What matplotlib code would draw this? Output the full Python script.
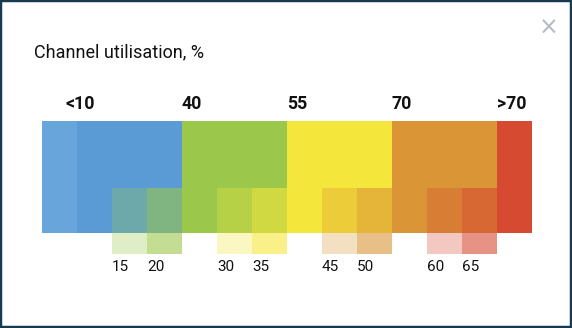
import matplotlib.pyplot as plt
from matplotlib.patches import Rectangle

# Main bands: start column, width in columns, colour
band_starts = [0, 1, 4, 7, 10, 13]
band_widths = [1, 3, 3, 3, 3, 1]
band_colors = ["#68a5da", "#5a9bd6", "#9bc84a", "#f5e63b", "#d99536", "#d64a32"]

# Threshold labels above the bar
top_labels = ["<10", "40", "55", "70", ">70"]
top_label_x = [0.68, 4, 7, 10, 13]

# Intermediate steps drawn as translucent boxes of the next band colour
step_values = [15, 20, 30, 35, 45, 50, 60, 65]
step_columns = [2, 3, 5, 6, 8, 9, 11, 12]
step_colors = ["#9bc84a", "#9bc84a", "#f5e63b", "#f5e63b",
               "#d99536", "#d99536", "#d64a32", "#d64a32"]
step_alphas = [0.3, 0.6, 0.3, 0.6, 0.3, 0.6, 0.3, 0.6]

W, H = 572, 328
fig = plt.figure(figsize=(W / 100, H / 100), dpi=100)
fig.patch.set_facecolor("white")
plt.rcParams["font.family"] = ["Roboto", "DejaVu Sans"]

# dialog frame
frame = Rectangle((0, 0), 1, 1, transform=fig.transFigure, fill=False,
                  edgecolor="#173a52", linewidth=3.2)
fig.add_artist(frame)

# close cross
fig.text(549 / W, 1 - 28 / H, "\u00d7", fontsize=17, color="#b3bac4",
         ha="center", va="center", family=["DejaVu Sans"])

fig.text(34 / W, 1 - 52 / H, "Channel utilisation, %", fontsize=13,
         color="#111111", ha="left", va="center")

# chart axes: main bar from y=0 to y=1
bar_h = 112.0
box_top = 45 / bar_h
box_bottom = -21 / bar_h
ax = fig.add_axes([42 / W, (H - 254) / H, 490 / W, 133 / H])
ax.set_xlim(0, 14)
ax.set_ylim(box_bottom, 1)
ax.axis("off")

ax.bar(band_starts, 1, width=band_widths, align="edge", color=band_colors,
       linewidth=0)

for col, val, c, a in zip(step_columns, step_values, step_colors, step_alphas):
    ax.bar(col, box_top - box_bottom, bottom=box_bottom, width=1, align="edge",
           color=c, alpha=a, linewidth=0)
    ax.text(col, -34 / bar_h, str(val), fontsize=11, color="#111111",
            ha="left", va="center", clip_on=False)

for x, lab in zip(top_label_x, top_labels):
    ax.text(x, 1 + 17 / bar_h, lab, fontsize=12.8, fontweight="bold",
            color="#111111", ha="left", va="center", clip_on=False)

fig.savefig("out.png", dpi=100, facecolor="white")
